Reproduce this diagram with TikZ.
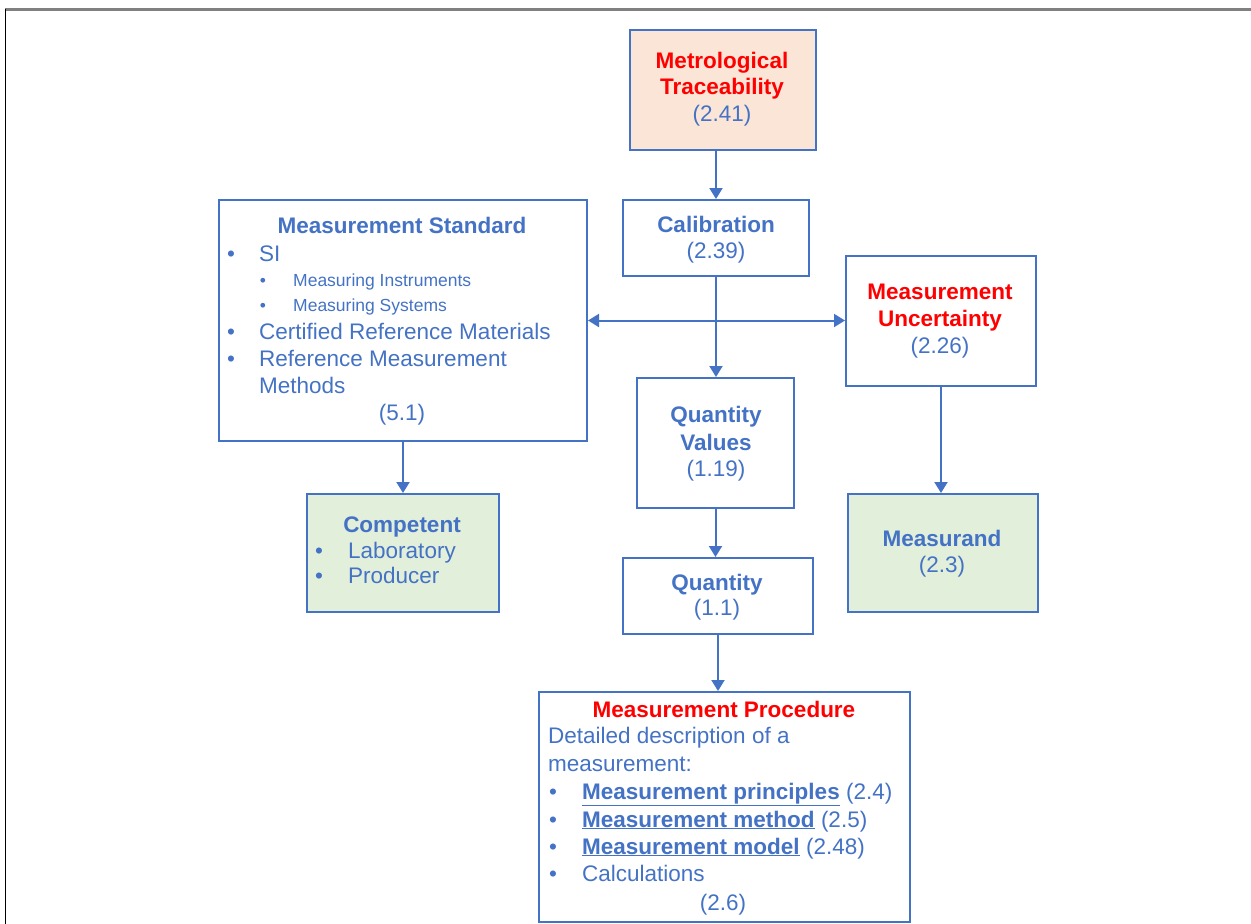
\documentclass[tikz,border=0pt]{standalone}
\usepackage{fontspec}
\setmainfont{Liberation Sans}
\usetikzlibrary{arrows.meta}
\definecolor{bl}{HTML}{4472C4}
\definecolor{rd}{HTML}{FF0000}
\definecolor{peach}{HTML}{FBE5D6}
\definecolor{grn}{HTML}{E2EFDA}
\definecolor{frm}{HTML}{808080}
\newcommand\fN{\fontsize{22.5}{27}\selectfont}
\newcommand\fS{\fontsize{17.5}{21}\selectfont}
\begin{document}
\begin{tikzpicture}[x=1pt,y=-1pt,
 box/.style={draw=bl, line width=2pt, rectangle, inner sep=0pt},
 t/.style={inner sep=0pt, anchor=base, text=bl, font=\fN},
 tb/.style={t, font=\fN\bfseries},
 tr/.style={t, text=rd, font=\fN\bfseries},
 tl/.style={t, anchor=base west},
 ts/.style={t, font=\fS},
 tsl/.style={ts, anchor=base west},
 arr/.style={draw=bl, line width=2pt, -{Triangle[width=13pt,length=11pt]}},
 darr/.style={draw=bl, line width=2pt, {Triangle[width=13pt,length=11pt]}-{Triangle[width=13pt,length=11pt]}},
]
\useasboundingbox (0,0) rectangle (1251,924);
% frame
\draw[frm, line width=2.5pt] (5,9.5) -- (1251,9.5);
\draw[black, line width=1.5pt] (5.5,9) -- (5.5,924);

% boxes
\node[box, fill=peach, minimum width=186pt, minimum height=120pt] (trace) at (722.5,90) {};
\node[box, minimum width=186pt, minimum height=76pt] (calib) at (716,238) {};
\node[box, minimum width=368pt, minimum height=241pt] (ms) at (403,320.5) {};
\node[box, minimum width=190pt, minimum height=130pt] (mu) at (941,321) {};
\node[box, minimum width=157pt, minimum height=130pt] (qv) at (715.5,443) {};
\node[box, fill=grn, minimum width=192pt, minimum height=118pt] (comp) at (403,553) {};
\node[box, fill=grn, minimum width=190pt, minimum height=118pt] (msd) at (943,553) {};
\node[box, minimum width=190pt, minimum height=76pt] (qty) at (718,596) {};
\node[box, minimum width=371pt, minimum height=230pt] (proc) at (724.5,807) {};

% connectors
\draw[arr] (trace.south -| calib.north) -- (calib.north);
\draw[arr] (calib.south) -- (calib.south |- qv.north);
\draw[darr] (ms.east) -- (ms.east -| mu.west);
\draw[arr] (ms.south) -- (comp.north);
\draw[arr] (mu.south) -- (mu.south |- msd.north);
\draw[arr] (qv.south) -- (qv.south |- qty.north);
\draw[arr] (qty.south) -- (qty.south |- proc.north);

% Metrological Traceability
\node[tr] (tr1) at (722,68) {Metrological};
\node[tr] (tr2) at (722,94) {Traceability};
\node[t] (tr3) at (722,121) {(2.41)};

% Calibration
\node[tb] (ca1) at (716,232) {Calibration};
\node[t] (ca2) at (716,258) {(2.39)};

% Measurement Standard
\node[tb] (ms0) at (402,233) {Measurement Standard};
\node[t] (msb1) at (231,261) {•};
\node[tl] (ms1) at (259,261) {SI};
\node[ts] (msb2) at (263,286) {•};
\node[tsl] (ms2) at (293,286) {Measuring Instruments};
\node[ts] (msb3) at (263,311) {•};
\node[tsl] (ms3) at (293,311) {Measuring Systems};
\node[t] (msb4) at (231,339) {•};
\node[tl] (ms4) at (259,339) {Certified Reference Materials};
\node[t] (msb5) at (231,366) {•};
\node[tl] (ms5) at (259,366) {Reference Measurement};
\node[tl] (ms6) at (259,393) {Methods};
\node[t] (ms7) at (402,420) {(5.1)};

% Measurement Uncertainty
\node[tr] (mu1) at (940,299) {Measurement};
\node[tr] (mu2) at (940,326) {Uncertainty};
\node[t] (mu3) at (940,353) {(2.26)};

% Quantity Values
\node[tb] (qv1) at (716,422) {Quantity};
\node[tb] (qv2) at (716,450) {Values};
\node[t] (qv3) at (716,476) {(1.19)};

% Competent
\node[tb] (co1) at (402,532) {Competent};
\node[t] (cob1) at (319,558) {•};
\node[tl] (co2) at (348,558) {Laboratory};
\node[t] (cob2) at (319,583) {•};
\node[tl] (co3) at (348,583) {Producer};

% Measurand
\node[tb] (md1) at (942,546) {Measurand};
\node[t] (md2) at (942,572) {(2.3)};

% Quantity
\node[tb] (qt1) at (717,590) {Quantity};
\node[t] (qt2) at (717,615) {(1.1)};

% Measurement Procedure
\node[tr] (pr0) at (724,717) {Measurement Procedure};
\node[tl] (pr1) at (548,743) {Detailed description of a};
\node[tl] (pr2) at (548,771) {measurement:};
\node[t] (prb1) at (553,799) {•};
\node[tl] (pr3) at (582,799) {\underline{\textbf{Measurement principles}} (2.4)};
\node[t] (prb2) at (553,827) {•};
\node[tl] (pr4) at (582,827) {\underline{\textbf{Measurement method}} (2.5)};
\node[t] (prb3) at (553,854) {•};
\node[tl] (pr5) at (582,854) {\underline{\textbf{Measurement model}} (2.48)};
\node[t] (prb4) at (553,881) {•};
\node[tl] (pr6) at (582,881) {Calculations};
\node[t] (pr7) at (723,910) {(2.6)};
\end{tikzpicture}
\end{document}
